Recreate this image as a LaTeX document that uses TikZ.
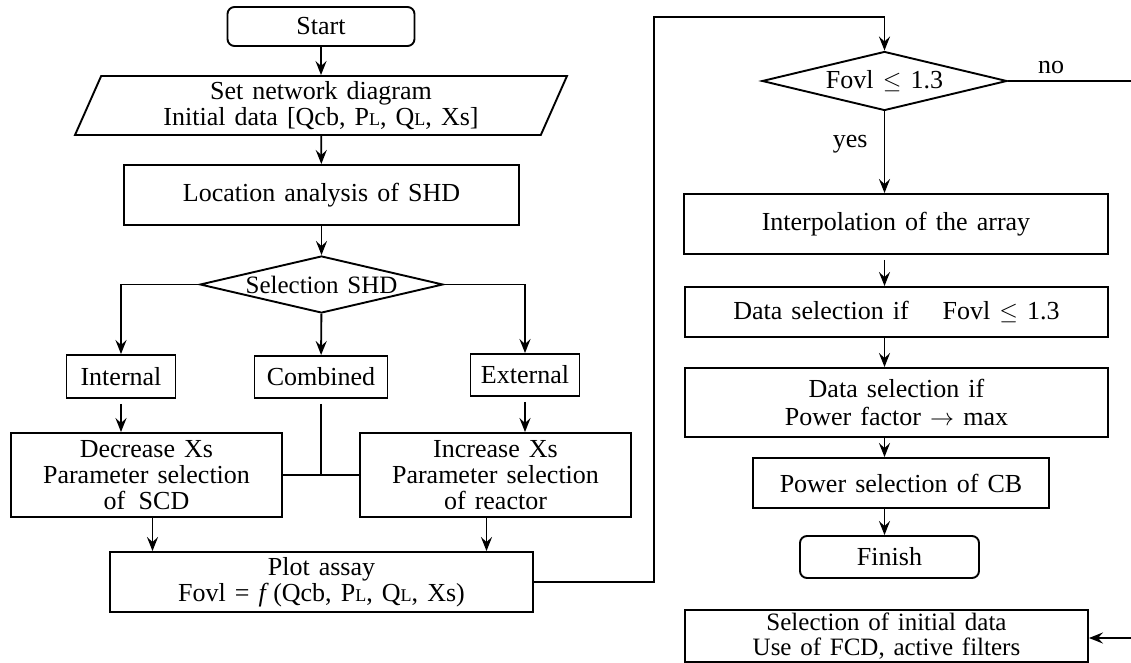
\documentclass[tikz,border=0pt]{standalone}
\usepackage{fontspec}
\setmainfont{Liberation Serif}[WordSpace=1.4]
\usetikzlibrary{shapes.geometric,arrows.meta}
\newcommand{\smallL}{{\fontsize{9}{8}\selectfont L}}

\begin{document}
\begin{tikzpicture}[x=0.5pt, y=-0.5pt, line width=0.95pt,
  every node/.style={font=\fontsize{13}{13}\selectfont, align=center, inner sep=0pt},
  box/.style={draw, rectangle},
  term/.style={draw, rectangle, rounded corners=3.5pt},
  cond/.style={draw, diamond, aspect=4.2},
  io/.style={draw, trapezium, trapezium left angle=61.5, trapezium right angle=118.5, trapezium stretches body},
  flow/.style={-{Stealth[length=7pt,width=5.5pt,inset=2.5pt]}}]
\useasboundingbox (0,0) rectangle (1131,663);
% left column
\node[term, minimum width=93.5pt, minimum height=19.5pt] (start) at (321,26.5) {Start};
\node[io, minimum width=246pt, minimum height=29.5pt] (data) at (321,105.5) {Set network diagram\\Initial data [Qcb, P\smallL, Q\smallL, Xs]};
\node[box, minimum width=197.5pt, minimum height=30pt] (loc) at (321.5,195) {Location analysis of SHD};
\node[cond, minimum width=121.5pt, minimum height=28.5pt, font=\fontsize{12.5}{12.5}\selectfont] (sel) at (321.5,284.5) {Selection SHD};
\node[box, minimum width=54.5pt, minimum height=21.5pt] (int) at (121,376.5) {Internal};
\node[box, minimum width=66.5pt, minimum height=21pt] (comb) at (321,377) {Combined};
\node[box, minimum width=54.5pt, minimum height=21pt] (ext) at (525,375) {External};
\node[box, minimum width=135.5pt, minimum height=42pt] (dec) at (146.5,475) {Decrease Xs\\Parameter selection\\of\, SCD};
\node[box, minimum width=135.5pt, minimum height=42pt] (inc) at (495.5,475) {Increase Xs\\Parameter selection\\of reactor};
\node[box, minimum width=211.5pt, minimum height=30pt] (plot) at (321.5,582) {Plot assay\\Fovl = \textit{f}\,(Qcb, P\smallL, Q\smallL, Xs)};
% right column
\node[cond, minimum width=122.5pt, minimum height=29.5pt] (ovl) at (884.5,81) {Fovl $\leq$ 1.3};
\node[box, minimum width=212pt, minimum height=30pt] (interp) at (896,224) {Interpolation of the array};
\node[box, minimum width=211.5pt, minimum height=25pt] (dsel) at (896.5,312) {Data selection if\hspace{1.3em}Fovl $\leq$ 1.3};
\node[box, minimum width=211.5pt, minimum height=34.5pt, font=\fontsize{13}{14}\selectfont] (pfsel) at (896.5,402.5) {Data selection if\\Power factor $\rightarrow$ max};
\node[box, minimum width=148pt, minimum height=25pt] (cbsel) at (901,483) {Power selection of CB};
\node[term, minimum width=89.5pt, minimum height=21pt] (finish) at (889.5,557) {Finish};
\node[box, minimum width=201.5pt, minimum height=26pt, font=\fontsize{12.5}{12.5}\selectfont] (fcd) at (886.5,636) {Selection of initial data\\Use of FCD, active filters};
\coordinate (loop) at (654,17);
\coordinate (noend) at (1131,81);
\coordinate (back) at (1131,638);
% connectors
\draw[flow] (start) -- (data);
\draw[flow] (data) -- (loc);
\draw[flow] (loc) -- (sel);
\draw[flow] (sel.west) -| (int.north);
\draw[flow] (sel) -- (comb);
\draw[flow] (sel.east) -| (ext.north);
\draw[flow, shorten <=2.5pt] (int.south) -- (int.south |- dec.north);
\draw[flow, shorten <=2.5pt] (ext.south) -- (ext.south |- inc.north);
\draw[shorten <=2.5pt] (comb.south) -- (comb.south |- dec.east);
\draw (dec.east) -- (inc.west);
\draw[flow] ([xshift=3pt]dec.south) -- ([xshift=3pt]dec.south |- plot.north);
\draw[flow] ([xshift=-4.5pt]inc.south) -- ([xshift=-4.5pt]inc.south |- plot.north);
\draw[flow] (plot.east) -| (loop) -| (ovl.north);
\draw (ovl.east) -- node[above=3pt, pos=.35] (no) {no} (noend);
\draw[flow] (ovl.south) -- node[left=8pt, pos=.4] (yes) {yes} (ovl.south |- interp.north);
\draw[flow, shorten <=2.5pt] (interp.south -| ovl) -- (dsel.north -| ovl);
\foreach \a/\b in {dsel/pfsel, pfsel/cbsel, cbsel/finish}
  \draw[flow] (\a.south -| ovl) -- (\b.north -| ovl);
\draw[flow] (back) -- (back -| fcd.east);
\end{tikzpicture}
\end{document}
